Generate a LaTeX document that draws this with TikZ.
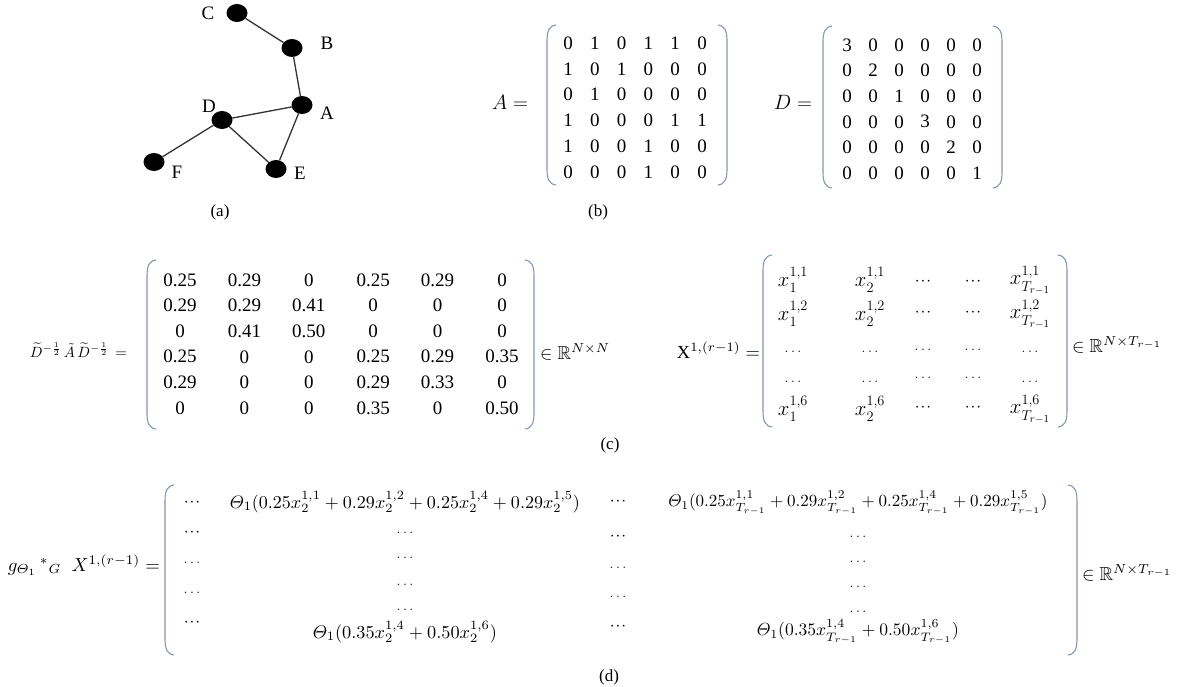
\documentclass[tikz,border=0pt]{standalone}
\usepackage{amsmath,amssymb}
\usepackage{graphicx}
\usepackage{fontspec}
\setmainfont{Liberation Serif}
\usetikzlibrary{shapes.geometric}
\newcommand\fsz[1]{\fontsize{#1}{#1}\selectfont}
\newcommand\lbrk[3]{\draw[brk] ({#1+9},#2) .. controls ({#1+2},{#2+1}) and (#1,{#2+6}) .. (#1,{#2+16}) -- (#1,{#3-16}) .. controls (#1,{#3-6}) and ({#1+2},{#3-1}) .. ({#1+9},#3);}
\newcommand\rbrk[3]{\draw[brk] ({#1-9},#2) .. controls ({#1-2},{#2+1}) and (#1,{#2+6}) .. (#1,{#2+16}) -- (#1,{#3-16}) .. controls (#1,{#3-6}) and ({#1-2},{#3-1}) .. ({#1-9},#3);}
\newcommand\tdots{\textbf{$\cdot\!\cdot\!\cdot$}}
\newcommand\sdots{$\ldots$}
\newcommand\xT[1]{$x_{T_{r-1}}^{1,#1}$}
\begin{document}
\begin{tikzpicture}[x=1pt,y=-1pt,
  every node/.style={inner sep=0pt,outer sep=0pt},
  vtx/.style={ellipse,fill=black,minimum width=21pt,minimum height=18pt},
  link/.style={draw=black!80,line width=1.3pt},
  brk/.style={draw={rgb,255:red,132;green,151;blue,178},line width=1.1pt},
  num/.style={font=\fsz{19}},
  captxt/.style={font=\fsz{17}},
  glbl/.style={font=\fsz{19}},
  xent/.style={font=\fsz{22}},
  dts/.style={font=\fsz{15}},
  tdts/.style={font=\fsz{19}}]
\useasboundingbox (0,0) rectangle (1187,687);
% ---------- (a) graph ----------
\node[vtx] (C) at (237,13) {};
\node[vtx] (B) at (292,48) {};
\node[vtx] (A) at (302,105) {};
\node[vtx] (D) at (222,120) {};
\node[vtx] (F) at (154,162) {};
\node[vtx] (E) at (276,169) {};
\draw[link] (C) -- (B);
\draw[link] (B) -- (A);
\draw[link] (A) -- (D);
\draw[link] (A) -- (E);
\draw[link] (D) -- (E);
\draw[link] (D) -- (F);
\node[glbl] (lC) at (208,13) {C};
\node[glbl] (lB) at (327,43) {B};
\node[glbl] (lA) at (327,113) {A};
\node[glbl] (lD) at (209,106) {D};
\node[glbl] (lF) at (177,172) {F};
\node[glbl] (lE) at (300,173) {E};
\node[captxt] (capa) at (220,212) {(a)};
% ---------- (b) matrices ----------
\node[font=\fsz{20}] (Aeq) at (510,102) {$A=$};
\lbrk{547}{25}{185}
\rbrk{727}{25}{185}
\foreach \row [count=\r] in {{0,1,0,1,1,0},{1,0,1,0,0,0},{0,1,0,0,0,0},{1,0,0,0,1,1},{1,0,0,1,0,0},{0,0,0,1,0,0}}{
  \foreach \v [count=\c] in \row {
    \node[num] (a-\r-\c) at ({568+26.8*(\c-1)},{43+25.8*(\r-1)}) {\v};
  }
}
\node[font=\fsz{20}] (Deq) at (793,102) {$D=$};
\lbrk{823}{26}{188}
\rbrk{1002}{26}{188}
\foreach \row [count=\r] in {{3,0,0,0,0,0},{0,2,0,0,0,0},{0,0,1,0,0,0},{0,0,0,3,0,0},{0,0,0,0,2,0},{0,0,0,0,0,1}}{
  \foreach \v [count=\c] in \row {
    \node[num] (d-\r-\c) at ({847+26*(\c-1)},{45+25.6*(\r-1)}) {\v};
  }
}
\node[captxt] (capb) at (598,212) {(b)};
% ---------- (c) ----------
\node[anchor=east] (Lnorm) at (127,350) {\resizebox{97pt}{!}{$\widetilde{D}^{-\frac{1}{2}}\,\tilde{A}\,\widetilde{D}^{-\frac{1}{2}}\,=$}};
\lbrk{147}{260}{429}
\rbrk{534}{260}{429}
\foreach \row [count=\r] in {{0.25,0.29,0,0.25,0.29,0},{0.29,0.29,0.41,0,0,0},{0,0.41,0.50,0,0,0},{0.25,0,0,0.25,0.29,0.35},{0.29,0,0,0.29,0.33,0},{0,0,0,0.35,0,0.50}}{
  \foreach \v [count=\c] in \row {
    \node[num] (n-\r-\c) at ({180+64.4*(\c-1)},{280+25.6*(\r-1)}) {\v};
  }
}
\node[anchor=west] (Rnn) at (540,352) {\resizebox{70pt}{!}{$\in\mathbb{R}^{N\times N}$}};
\node[anchor=east] (Xlbl) at (760,350) {\resizebox{83pt}{!}{$\mathrm{X}^{1,(r-1)}=$}};
\lbrk{763}{255}{427}
\rbrk{1067}{255}{427}
\node[xent] (x11) at (793,280) {$x_1^{1,1}$};
\node[xent] (x12) at (870,280) {$x_2^{1,1}$};
\node[tdts] (x13) at (923,282) {\tdots};
\node[tdts] (x14) at (973,282) {\tdots};
\node[xent] (x15) at (1030,280) {\xT{1}};
\node[xent] (x21) at (793,314) {$x_1^{1,2}$};
\node[xent] (x22) at (870,314) {$x_2^{1,2}$};
\node[tdts] (x23) at (923,313) {\tdots};
\node[tdts] (x24) at (973,313) {\tdots};
\node[xent] (x25) at (1030,314) {\xT{2}};
\node[dts] (x31) at (793,352) {\sdots};
\node[dts] (x32) at (870,352) {\sdots};
\node[dts] (x33) at (923,350) {\sdots};
\node[dts] (x34) at (973,350) {\sdots};
\node[dts] (x35) at (1030,352) {\sdots};
\node[dts] (x41) at (793,382) {\sdots};
\node[dts] (x42) at (870,382) {\sdots};
\node[dts] (x43) at (923,378) {\sdots};
\node[dts] (x44) at (973,378) {\sdots};
\node[dts] (x45) at (1030,382) {\sdots};
\node[xent] (x51) at (793,409) {$x_1^{1,6}$};
\node[xent] (x52) at (870,409) {$x_2^{1,6}$};
\node[tdts] (x53) at (923,408) {\tdots};
\node[tdts] (x54) at (973,408) {\tdots};
\node[xent] (x55) at (1030,409) {\xT{6}};
\node[anchor=west] (Rnt) at (1072,345) {\resizebox{90pt}{!}{$\in\mathbb{R}^{N\times T_{r-1}}$}};
\node[captxt] (capc) at (610,445) {(c)};
% ---------- (d) ----------
\node[anchor=east] (Glbl) at (160,565) {\resizebox{152pt}{!}{$g_{\varTheta_1}\,{}^{*}{}_{G}\;\; X^{1,(r-1)}=$}};
\lbrk{165}{485}{655}
\rbrk{1077}{485}{655}
% column 1
\node[tdts] (g11) at (192,503) {\tdots};
\node[tdts] (g21) at (192,533) {\tdots};
\node[dts] (g31) at (192,563) {\sdots};
\node[dts] (g41) at (192,593) {\sdots};
\node[tdts] (g51) at (192,623) {\tdots};
% column 2
\node (g12) at (405,502) {\resizebox{350pt}{!}{$\varTheta_1(0.25x_2^{1,1}+0.29x_2^{1,2}+0.25x_2^{1,4}+0.29x_2^{1,5})$}};
\node[dts] (g22) at (405,533) {\sdots};
\node[dts] (g32) at (405,558) {\sdots};
\node[dts] (g42) at (405,585) {\sdots};
\node[dts] (g52) at (405,610) {\sdots};
\node (g62) at (405,632) {\resizebox{184pt}{!}{$\varTheta_1(0.35x_2^{1,4}+0.50x_2^{1,6})$}};
% column 3
\node[tdts] (g13) at (618,502) {\tdots};
\node[tdts] (g23) at (618,537) {\tdots};
\node[dts] (g33) at (618,568) {\sdots};
\node[dts] (g43) at (618,597) {\sdots};
\node[tdts] (g53) at (618,627) {\tdots};
% column 4
\node (g14) at (858,503) {\resizebox{379pt}{!}{$\varTheta_1(0.25x_{T_{r-1}}^{1,1}+0.29x_{T_{r-1}}^{1,2}+0.25x_{T_{r-1}}^{1,4}+0.29x_{T_{r-1}}^{1,5})$}};
\node[dts] (g24) at (858,537) {\sdots};
\node[dts] (g34) at (858,562) {\sdots};
\node[dts] (g44) at (858,587) {\sdots};
\node[dts] (g54) at (858,612) {\sdots};
\node (g64) at (858,632) {\resizebox{202pt}{!}{$\varTheta_1(0.35x_{T_{r-1}}^{1,4}+0.50x_{T_{r-1}}^{1,6})$}};
\node[anchor=west] (Rnt2) at (1082,573) {\resizebox{90pt}{!}{$\in\mathbb{R}^{N\times T_{r-1}}$}};
\node[captxt] (capd) at (609,677) {(d)};
\end{tikzpicture}
\end{document}
